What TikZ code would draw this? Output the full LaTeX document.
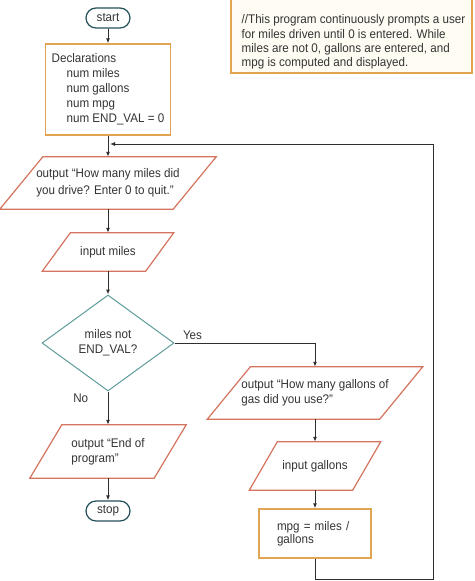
\documentclass[tikz,border=0pt]{standalone}
\usepackage{fontspec}
\setmainfont{Liberation Sans}[FakeStretch=0.93]
\usetikzlibrary{arrows.meta,shapes.geometric,calc,positioning}
\definecolor{termline}{HTML}{24505C}
\definecolor{procline}{HTML}{E0A452}
\definecolor{ioline}{HTML}{D4735E}
\definecolor{decline}{HTML}{5E9C9A}
\definecolor{flowline}{HTML}{2E2E2E}
\definecolor{notefill}{HTML}{FFFDF3}
\definecolor{txt}{HTML}{333333}

\begin{document}
\begin{tikzpicture}[x=1pt,y=-1pt,
    every node/.style={font=\fontsize{12.5}{15}\selectfont, text=txt},
    terminal/.style={draw=termline, line width=1.2pt, rounded corners=10pt,
      minimum width=44pt, minimum height=20pt, inner sep=0pt},
    process/.style={draw=procline, line width=1.3pt, align=left, inner sep=0pt},
    io/.style={rectangle, align=left, inner sep=0pt},
    decision/.style={diamond, draw=decline, line width=1pt, aspect=1.375,
      inner sep=0pt, minimum width=132pt, minimum height=96pt, align=center},
    flow/.style={draw=flowline, line width=1pt, -{Latex[length=5pt,width=4pt]}}]
    \useasboundingbox (0,0) rectangle (474,581);
    % comment box
    \node[draw=procline, fill=notefill, line width=1.3pt, minimum width=241pt,
      minimum height=76pt, inner sep=0pt] (note) at (351.5,35) {};
    \node[anchor=west, align=left, inner sep=0pt,
      font=\fontsize{12.5}{14.2}\selectfont] (notetext) at (241.5,42)
      {//This program continuously prompts a user\\for miles driven until 0 is entered. While\\miles are not 0, gallons are entered, and\\mpg is computed and displayed.};
    % main column
    \node[terminal] (start) at (108,18) {start};
    \node[process, minimum width=125pt, minimum height=91pt] (decl) at (108,89.5)
      {Declarations\\\hspace*{15pt}num miles\\\hspace*{15pt}num gallons\\\hspace*{15pt}num mpg\\\hspace*{15pt}num END\_VAL = 0};
    \node[io, minimum width=173pt, minimum height=52pt,
      font=\fontsize{12.5}{16.5}\selectfont] (askmiles) at (108,183)
      {output “How many miles did\\you drive? Enter 0 to quit.”};
    \node[io, minimum width=103pt, minimum height=38pt] (getmiles) at (108,252) {input miles};
    \node[decision] (check) at (108,343) {miles not\\END\_VAL?};
    \node[io, minimum width=124pt, minimum height=53pt] (sayend) at (108,451.5) {output “End of\\program”};
    \node[terminal] (stop) at (108,511) {stop};
    % right column
    \node[io, minimum width=172pt, minimum height=52pt] (askgal) at (315,393)
      {output “How many gallons of\\gas did you use?”};
    \node[io, minimum width=103pt, minimum height=48pt] (getgal) at (315,466) {input gallons};
    \node[process, minimum width=112pt, minimum height=49pt, text width=76pt,
      font=\fontsize{12.5}{13}\selectfont] (compute) at (315,533.5) {mpg = miles /\\gallons};
    % parallelogram outlines
    \foreach \n/\s in {askmiles/43,getmiles/28,sayend/32,askgal/43,getgal/28}
      \draw[draw=ioline, line width=1.2pt] ([xshift=\s*0.5pt]\n.north west) -- ([xshift=\s*0.5pt]\n.north east)
        -- ([xshift=-\s*0.5pt]\n.south east) -- ([xshift=-\s*0.5pt]\n.south west) -- cycle;
    % connectors
    \coordinate (loopin) at (110,144);
    \coordinate (loopcorner) at (433,579);
    \draw[flow] (start) -- (decl);
    \draw[flow] (decl) -- (askmiles);
    \draw[flow] (askmiles) -- (getmiles);
    \draw[flow] (getmiles) -- (check);
    \draw[flow] (check.east) -| node[pos=0.064, above] (yes) {Yes} (askgal.north);
    \draw[flow] (check) -- node[pos=0.2, left=16pt] (no) {No} (sayend);
    \draw[flow] (sayend) -- (stop);
    \draw[flow] (askgal) -- (getgal);
    \draw[flow] (getgal) -- (compute);
    \draw[flow] (compute.south) |- (loopcorner) |- (loopin);
\end{tikzpicture}
\end{document}
